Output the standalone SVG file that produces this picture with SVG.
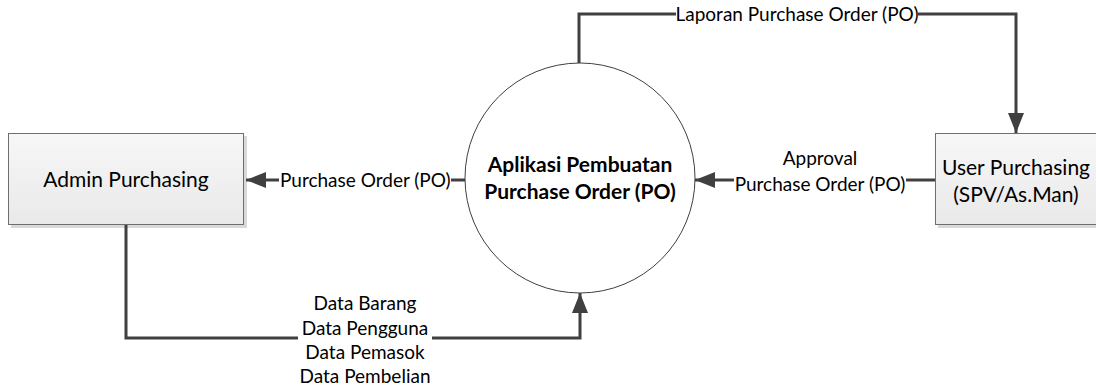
<svg xmlns="http://www.w3.org/2000/svg" width="1096" height="387" viewBox="0 0 1096 387">
  <style>
    .lbl { font-family: Lato, "Liberation Sans", sans-serif; font-size: 19px; fill: #000; }
    .ent { font-family: Lato, "Liberation Sans", sans-serif; font-size: 21px; fill: #000; text-anchor: middle; }
    .proc { font-family: Lato, "Liberation Sans", sans-serif; font-size: 21px; font-weight: bold; fill: #000; text-anchor: middle; }
    .flow { fill: none; stroke: #404040; stroke-width: 3; }
    .box { fill: url(#boxFill); stroke: #6e6e6e; stroke-width: 1; }
    .shadow { fill: #d9d9d9; }
  </style>
  <defs>
    <linearGradient id="boxFill" x1="0" y1="0" x2="0" y2="1">
      <stop offset="0" stop-color="#f7f7f7"/>
      <stop offset="1" stop-color="#e9e9e9"/>
    </linearGradient>
    <marker id="head" viewBox="0 0 20 16" refX="20" refY="8" markerWidth="20" markerHeight="16" markerUnits="userSpaceOnUse" orient="auto">
      <path d="M0,0 L20,8 L0,16 Z" fill="#404040"/>
    </marker>
  </defs>

  <!-- external entity: Admin Purchasing -->
  <g id="admin-purchasing">
    <rect class="shadow" x="11" y="136" width="236" height="92"/>
    <rect class="box" x="8.5" y="133.5" width="235" height="91"/>
    <text class="ent" x="126" y="187">Admin Purchasing</text>
  </g>

  <!-- external entity: User Purchasing -->
  <g id="user-purchasing">
    <rect class="shadow" x="938" y="136" width="164" height="92"/>
    <rect class="box" x="935.5" y="133.5" width="164" height="91"/>
    <text class="ent" x="1016" y="175">User Purchasing</text>
    <text class="ent" x="1016" y="202">(SPV/As.Man)</text>
  </g>

  <!-- process -->
  <g id="process">
    <circle cx="580" cy="178" r="115" fill="#fff" stroke="#404040" stroke-width="1"/>
    <text class="proc" x="580" y="172">Aplikasi Pembuatan</text>
    <text class="proc" x="580" y="199">Purchase Order (PO)</text>
  </g>

  <!-- data flows -->
  <g id="connectors">
    <!-- process to Admin: Purchase Order (PO) -->
    <path class="flow" d="M465,180 L451,180"/>
    <path class="flow" d="M279,180 L246,180" marker-end="url(#head)"/>
    <text class="lbl" x="280" y="187">Purchase Order (PO)</text>

    <!-- User to process: Approval -->
    <path class="flow" d="M935,180 L906,180"/>
    <path class="flow" d="M734,180 L695,180" marker-end="url(#head)"/>
    <text class="lbl" x="820" y="165" text-anchor="middle">Approval</text>
    <text class="lbl" x="820" y="191" text-anchor="middle">Purchase Order (PO)</text>

    <!-- process to User: Laporan -->
    <path class="flow" d="M579,63 L579,14 L676,14"/>
    <path class="flow" d="M918,14 L1016,14 L1016,133" marker-end="url(#head)"/>
    <text class="lbl" x="797" y="21" text-anchor="middle">Laporan Purchase Order (PO)</text>

    <!-- Admin to process: master data -->
    <path class="flow" d="M126,225 L126,338 L298,338"/>
    <path class="flow" d="M432,338 L580,338 L580,293" marker-end="url(#head)"/>
    <text class="lbl" x="365" y="310" text-anchor="middle">Data Barang</text>
    <text class="lbl" x="365" y="335" text-anchor="middle">Data Pengguna</text>
    <text class="lbl" x="365" y="359" text-anchor="middle">Data Pemasok</text>
    <text class="lbl" x="365" y="383" text-anchor="middle">Data Pembelian</text>
  </g>
</svg>
